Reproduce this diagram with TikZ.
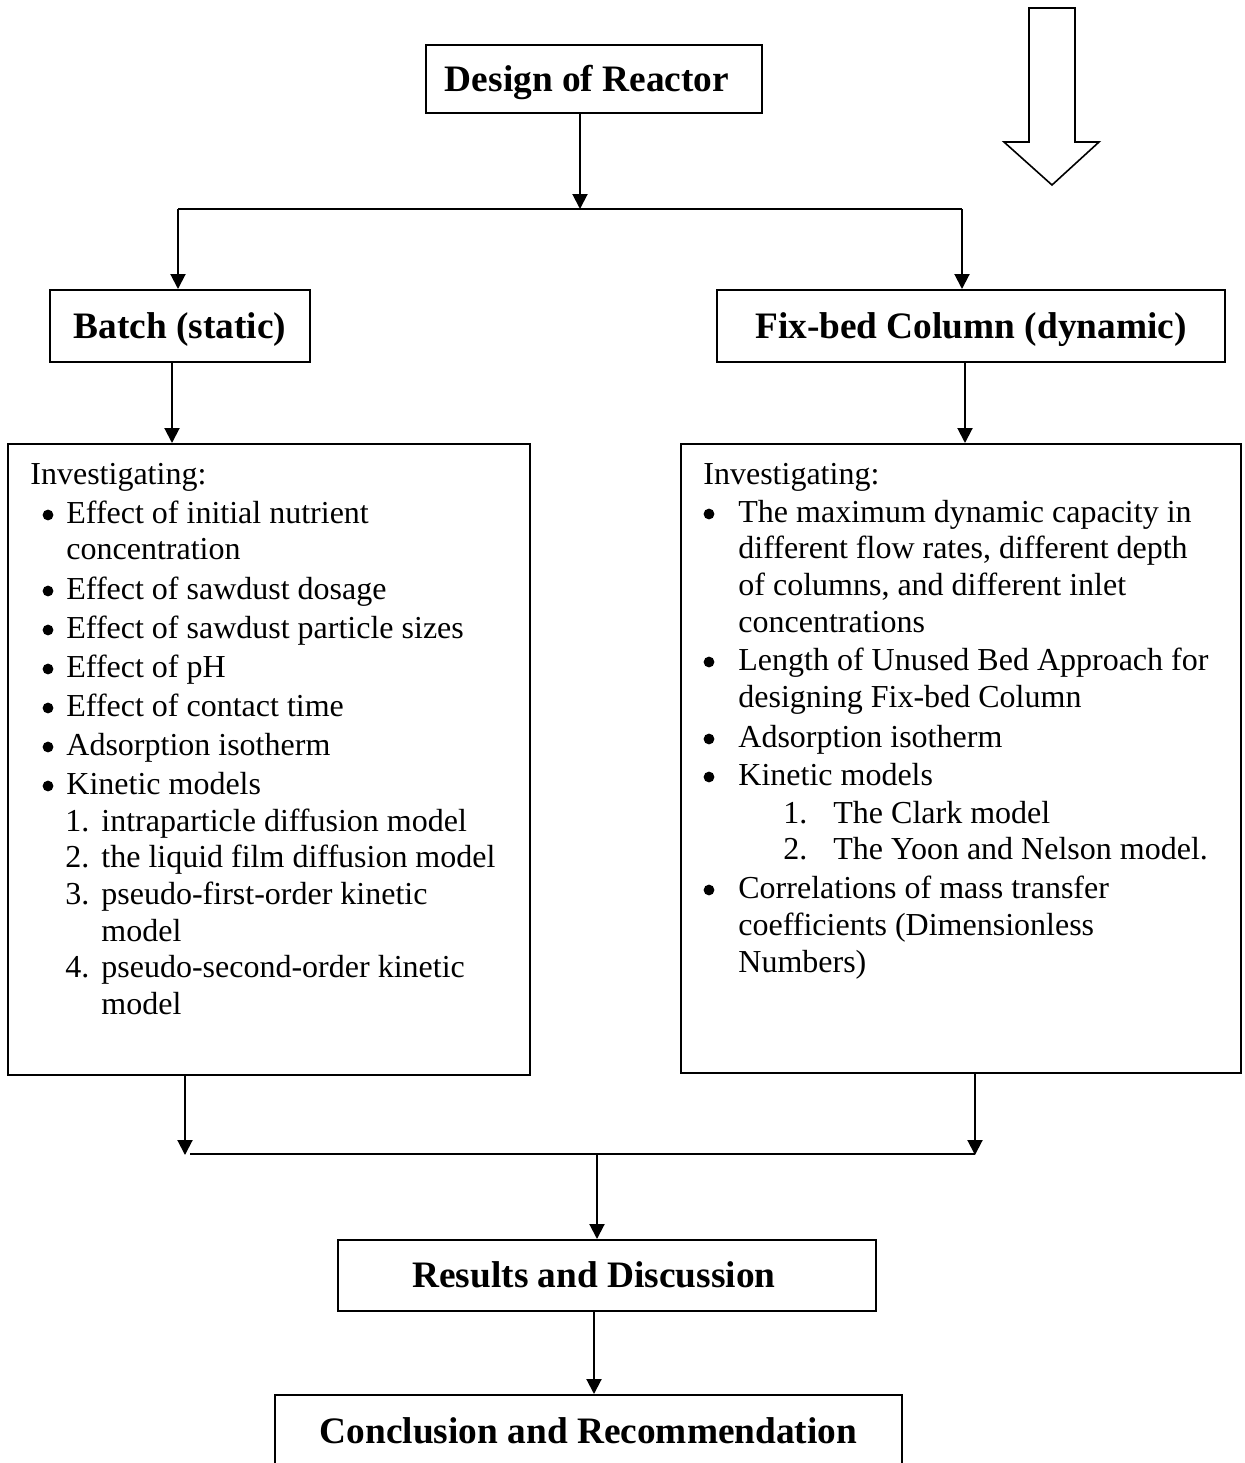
\documentclass[tikz,border=0pt]{standalone}
\usepackage{fontspec}
\setmainfont{Liberation Serif}
\usetikzlibrary{arrows.meta}
\begin{document}
\begin{tikzpicture}[x=0.5pt,y=-0.5pt,
  ln/.style={line width=1pt},
  arr/.style={line width=1pt,-{Triangle[width=7.5pt,length=7.5pt]}},
  hbox/.style={draw,line width=1pt,inner sep=0pt,text height=12.4pt,text depth=0pt,
    font=\bfseries\fontsize{18.67}{22}\selectfont},
  bigbox/.style={draw,line width=1pt,inner sep=0pt},
  txt/.style={anchor=base west,inner sep=0pt,font=\fontsize{16}{19}\selectfont},
  bul/.style={circle,fill,inner sep=0pt,minimum size=5.4pt},
  blockarrow/.style={draw,line width=0.8pt,fill=white,line join=miter}]
\clip (0,0) rectangle (1244,1463);
\fill[white] (0,0) rectangle (1244,1463);

% block arrow at the top right
\draw[blockarrow] (1029,8) -- (1075,8) -- (1075,142) -- (1099,142) -- (1052,185)
  -- (1004,142) -- (1029,142) -- cycle;

% header boxes
\node[hbox,minimum width=168pt,minimum height=34pt] (design) at (594,79) {Design of Reactor\kern7pt};
\node[hbox,minimum width=130pt,minimum height=36pt] (batch) at (180,326) {Batch (static)};
\node[hbox,minimum width=254pt,minimum height=36pt] (fix) at (971,326) {Fix-bed Column (dynamic)};
\node[hbox,minimum width=269pt,minimum height=35.5pt] (results) at (607,1275.5) {Results and Discussion\kern13pt};
\node[hbox,minimum width=313.5pt,minimum height=36.5pt] (concl) at (588.5,1431.5) {Conclusion and Recommendation};

% big boxes
\node[bigbox,minimum width=261pt,minimum height=315.5pt] (leftbox) at (269,759.5) {};
\node[bigbox,minimum width=280pt,minimum height=314.5pt] (rightbox) at (961,758.5) {};

% left box text
\node[txt] (l0) at (30,484) {Investigating:};
\node[bul] (lb1) at (48,515) {};
\node[txt] (l1) at (66,523) {Effect of initial nutrient};
\node[txt] (l2) at (66,559) {concentration};
\node[bul] (lb2) at (48,591) {};
\node[txt] (l3) at (66,599) {Effect of sawdust dosage};
\node[bul] (lb3) at (48,630) {};
\node[txt] (l4) at (66,638) {Effect of sawdust particle sizes};
\node[bul] (lb4) at (48,669) {};
\node[txt] (l5) at (66,677) {Effect of pH};
\node[bul] (lb5) at (48,708) {};
\node[txt] (l6) at (66,716) {Effect of contact time};
\node[bul] (lb6) at (48,747) {};
\node[txt] (l7) at (66,755) {Adsorption isotherm};
\node[bul] (lb7) at (48,786) {};
\node[txt] (l8) at (66,794) {Kinetic models};
\node[txt] (ln1) at (65,831) {1.};
\node[txt] (l9) at (101,831) {intraparticle diffusion model};
\node[txt] (ln2) at (65,867) {2.};
\node[txt] (l10) at (101,867) {the liquid film diffusion model};
\node[txt] (ln3) at (65,904) {3.};
\node[txt] (l11) at (101,904) {pseudo-first-order kinetic};
\node[txt] (l12) at (101,941) {model};
\node[txt] (ln4) at (65,977) {4.};
\node[txt] (l13) at (101,977) {pseudo-second-order kinetic};
\node[txt] (l14) at (101,1014) {model};

% right box text
\node[txt] (r0) at (703,484) {Investigating:};
\node[bul] (rb1) at (709,514) {};
\node[txt] (r1) at (738,522) {The maximum dynamic capacity in};
\node[txt] (r2) at (738,558) {different flow rates, different depth};
\node[txt] (r3) at (738,595) {of columns, and different inlet};
\node[txt] (r4) at (738,632) {concentrations};
\node[bul] (rb2) at (709,662) {};
\node[txt] (r5) at (738,670) {Length of Unused Bed Approach for};
\node[txt] (r6) at (738,707) {designing Fix-bed Column};
\node[bul] (rb3) at (709,739) {};
\node[txt] (r7) at (738,747) {Adsorption isotherm};
\node[bul] (rb4) at (709,777) {};
\node[txt] (r8) at (738,785) {Kinetic models};
\node[txt] (rn1) at (783,823) {1.};
\node[txt] (r9) at (833,823) {The Clark model};
\node[txt] (rn2) at (783,859) {2.};
\node[txt] (r10) at (833,859) {The Yoon and Nelson model.};
\node[bul] (rb5) at (709,890) {};
\node[txt] (r11) at (738,898) {Correlations of mass transfer};
\node[txt] (r12) at (738,935) {coefficients (Dimensionless};
\node[txt] (r13) at (738,972) {Numbers)};

% connectors
\coordinate (t) at (580,209);
\coordinate (tl) at (178,209);
\coordinate (tr) at (962,209);
\draw[arr] (design.south -| t) -- (t);
\draw[ln] (tl) -- (tr);
\draw[arr] (tl) -- (batch.north -| tl);
\draw[arr] (tr) -- (fix.north -| tr);

\coordinate (ba) at (172,400);
\coordinate (fa) at (965,400);
\draw[arr] (batch.south -| ba) -- (leftbox.north -| ba);
\draw[arr] (fix.south -| fa) -- (rightbox.north -| fa);

\coordinate (bl) at (185,1155);
\coordinate (br) at (975,1155);
\coordinate (hl) at (190,1154);
\coordinate (hr) at (975,1154);
\draw[arr] (leftbox.south -| bl) -- (bl);
\draw[arr] (rightbox.south -| br) -- (br);
\draw[ln] (hl) -- (hr);
\coordinate (bm) at (597,1155);
\draw[arr] (bm) -- (results.north -| bm);
\coordinate (rm) at (594,1350);
\draw[arr] (results.south -| rm) -- (concl.north -| rm);
\end{tikzpicture}
\end{document}
